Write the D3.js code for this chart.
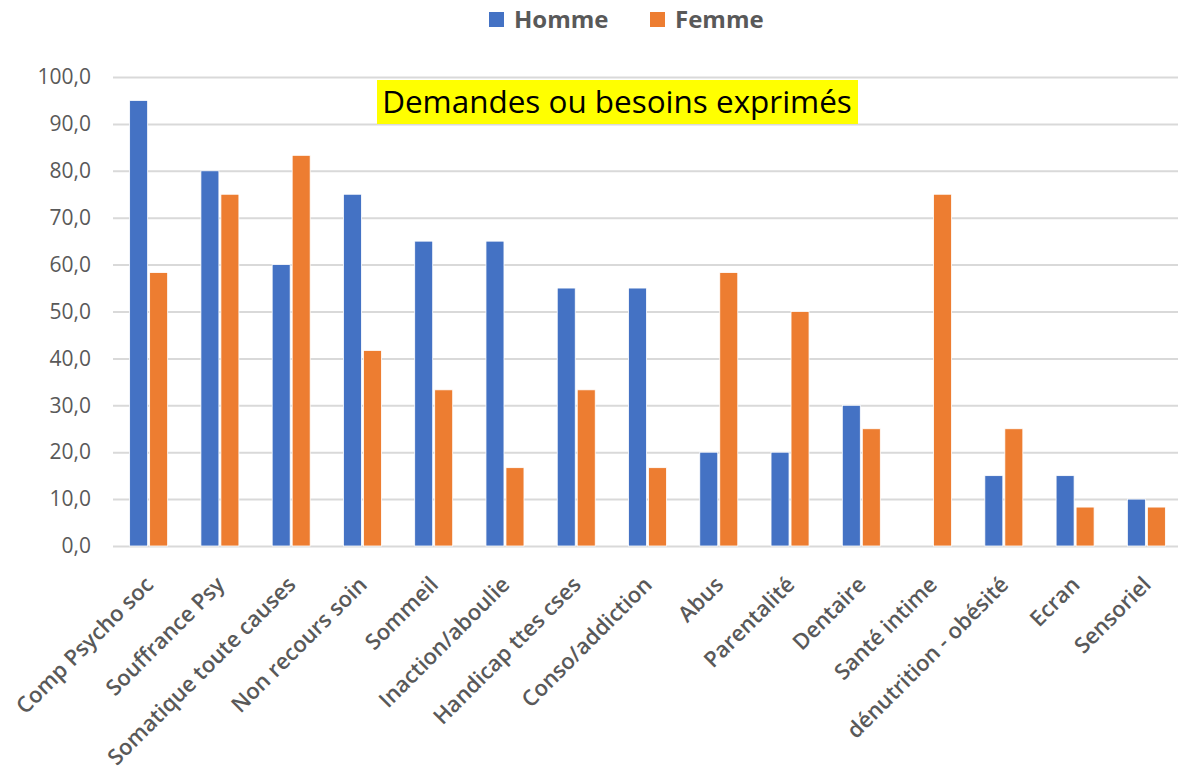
<!DOCTYPE html>
<html>
<head>
<meta charset="utf-8">
<script src="https://cdn.jsdelivr.net/npm/d3@7"></script>
<style>
  body { margin: 0; background: #fff; }
  svg { display: block; }
</style>
</head>
<body>
<svg id="chart"></svg>
<script>
// data
const categories = ['Comp Psycho soc', 'Souffrance Psy', 'Somatique toute causes', 'Non recours soin',
  'Sommeil', 'Inaction/aboulie', 'Handicap ttes cses', 'Conso/addiction', 'Abus', 'Parentalité',
  'Dentaire', 'Santé intime', 'dénutrition - obésité', 'Ecran', 'Sensoriel']
const homme = [95, 80, 60, 75, 65, 65, 55, 55, 20, 20, 30, 0, 15, 15, 10]
const femme = [58.3, 75, 83.3, 41.7, 33.3, 16.7, 33.3, 16.7, 58.3, 50, 25, 75, 25, 8.3, 8.3]
const seriesNames = ['Homme', 'Femme']
const yTicks = [0, 10, 20, 30, 40, 50, 60, 70, 80, 90, 100]
const title = 'Demandes ou besoins exprimés'

const W = 1178, H = 774
const margin = {top: 77, left: 113, right: -4, bottom: 228}
const colors = {Homme: '#4472C4', Femme: '#ED7D31'}
const font = '"Open Sans", "Noto Sans", sans-serif'

const svg = d3.select('#chart').attr('width', W).attr('height', H)
const iw = W - margin.left - margin.right
const ih = H - margin.top - margin.bottom
const chart = svg.append('g').attr('transform', `translate(${margin.left},${margin.top})`)

const x = d3.scaleBand().domain(categories).range([0, iw])
const x1 = d3.scaleBand().domain(seriesNames).range([x.bandwidth() / 2 - 19, x.bandwidth() / 2 + 19]).paddingInner(0.1)
const y = d3.scaleLinear().domain([0, 100]).range([ih, 0])

// grid
chart.append('g')
  .call(d3.axisLeft(y).tickValues(yTicks).tickSize(-iw).tickFormat(d => d3.format('.1f')(d).replace('.', ',')))
  .call(g => g.select('.domain').remove())
  .call(g => g.selectAll('.tick line').attr('stroke', '#d9d9d9').attr('stroke-width', 2))
  .call(g => g.selectAll('.tick text').attr('x', -22).attr('fill', '#595959')
    .attr('font-size', 21).attr('font-family', font))

// bars
const rows = categories.map((c, i) => ({cat: c, Homme: homme[i], Femme: femme[i]}))
chart.append('g').selectAll('g').data(rows).join('g')
  .attr('transform', d => `translate(${x(d.cat)},0)`)
  .selectAll('rect').data(d => seriesNames.map(k => ({key: k, value: d[k]}))).join('rect')
  .attr('x', d => x1(d.key))
  .attr('width', x1.bandwidth())
  .attr('y', d => y(d.value))
  .attr('height', d => ih - y(d.value))
  .attr('fill', d => colors[d.key])
  .attr('stroke', '#fff')
  .attr('stroke-width', d => d.value > 0 ? 0.8 : 0)

// x labels
chart.append('g').attr('transform', `translate(0,${ih})`)
  .call(d3.axisBottom(x).tickSize(0))
  .call(g => g.select('.domain').remove())
  .call(g => g.selectAll('.tick text')
    .attr('text-anchor', 'end')
    .attr('dy', 0).attr('y', 0)
    .attr('transform', 'translate(6,40) rotate(-45)')
    .attr('fill', '#595959')
    .attr('font-size', 22)
    .attr('font-weight', 600)
    .attr('font-family', font))

// title with yellow box
const tg = svg.append('g')
const tt = tg.append('text')
  .attr('x', 617).attr('y', 113)
  .attr('text-anchor', 'middle')
  .attr('font-family', font)
  .attr('font-size', 30)
  .attr('fill', '#000')
  .text(title)
let tw = tt.node().getComputedTextLength()
tt.attr('font-size', 30 * 470 / tw)
tg.insert('rect', 'text')
  .attr('x', 377).attr('y', 80).attr('width', 481).attr('height', 44)
  .attr('fill', '#ffff00')

// legend
const legend = svg.append('g')
const lx = {Homme: 489, Femme: 650}
seriesNames.forEach(k => {
  legend.append('rect').attr('x', lx[k]).attr('y', 12).attr('width', 15).attr('height', 15).attr('fill', colors[k])
  legend.append('text').attr('x', lx[k] + 25).attr('y', 28)
    .attr('font-family', font).attr('font-size', 24).attr('font-weight', 700)
    .attr('fill', '#595959').text(k)
})
</script>
</body>
</html>
